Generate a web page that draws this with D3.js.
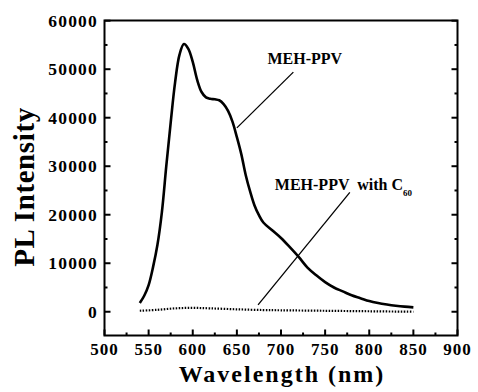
<!DOCTYPE html>
<html>
<head>
<meta charset="utf-8">
<script src="https://cdn.jsdelivr.net/npm/d3@7"></script>
<style>
  body { margin: 0; background: #fff; }
</style>
</head>
<body>
<svg id="chart" width="478" height="392"></svg>
<script>
// MEH-PPV photoluminescence
const wavePPV = [540, 545, 550, 555, 560, 565, 570, 575, 580, 585, 590, 595, 600, 605, 610, 615, 620, 625, 630, 635, 640, 645, 650, 655, 660, 665, 670, 675, 680, 690, 700, 710, 720, 730, 740, 750, 760, 770, 780, 790, 800, 810, 820, 830, 840, 850];
const intPPV  = [1800, 3300, 5500, 9200, 13800, 20500, 30000, 39000, 47300, 53000, 55200, 54200, 51500, 47800, 45300, 44200, 43900, 43800, 43600, 42800, 41400, 39200, 36000, 32500, 28200, 24800, 21900, 19900, 18400, 16800, 15200, 13300, 11300, 9100, 7500, 6100, 5000, 4200, 3400, 2800, 2200, 1800, 1500, 1250, 1050, 900];

// MEH-PPV with C60
const waveC60 = [540, 560, 580, 600, 620, 650, 680, 700, 750, 800, 850];
const intC60  = [200, 400, 700, 800, 700, 500, 350, 300, 200, 100, 0];

const xTicks = [500, 550, 600, 650, 700, 750, 800, 850, 900];
const yTicks = [0, 10000, 20000, 30000, 40000, 50000, 60000];

const FONT = "Liberation Serif, Times New Roman, serif";
const svg = d3.select("#chart");
const mLeft = 104.5, mRight = 457.5, mTop = 20.5, mBottom = 335.5;

const x = d3.scaleLinear().domain([500, 900]).range([mLeft, mRight]);
const y = d3.scaleLinear().domain([-5000, 60000]).range([336, 20.7]);

function label(sel) {
  return sel.attr("font-family", FONT).attr("font-weight", "bold").attr("fill", "#000");
}

// ticks (inward), major + minor
const xMinor = d3.range(525, 900, 50);
const yMinor = d3.range(5000, 60000, 10000);
const g = svg.append("g");

g.append("g").selectAll("line").data(xTicks).join("line")
  .attr("x1", d => x(d)).attr("x2", d => x(d))
  .attr("y1", mBottom).attr("y2", mBottom - 6)
  .attr("stroke", "#000").attr("stroke-width", 2);
g.append("g").selectAll("line").data(xMinor).join("line")
  .attr("x1", d => x(d)).attr("x2", d => x(d))
  .attr("y1", mBottom).attr("y2", mBottom - 3)
  .attr("stroke", "#000").attr("stroke-width", 2);

[mLeft, mRight].forEach((px, i) => {
  const dir = i === 0 ? 1 : -1;
  g.append("g").selectAll("line").data(yTicks).join("line")
    .attr("x1", px).attr("x2", px + dir * 6)
    .attr("y1", d => y(d)).attr("y2", d => y(d))
    .attr("stroke", "#000").attr("stroke-width", 2);
  g.append("g").selectAll("line").data(yMinor).join("line")
    .attr("x1", px).attr("x2", px + dir * 3)
    .attr("y1", d => y(d)).attr("y2", d => y(d))
    .attr("stroke", "#000").attr("stroke-width", 2);
});

// frame
svg.append("rect")
  .attr("x", mLeft).attr("y", mTop)
  .attr("width", mRight - mLeft).attr("height", mBottom - mTop)
  .attr("fill", "none").attr("stroke", "#000").attr("stroke-width", 2);

// tick labels
svg.append("g").selectAll("text").data(xTicks).join("text")
  .call(label)
  .attr("x", d => x(d)).attr("y", 355)
  .attr("text-anchor", "middle")
  .attr("font-size", 17).attr("letter-spacing", 1)
  .text(d => d);

svg.append("g").selectAll("text").data(yTicks).join("text")
  .call(label)
  .attr("x", 98).attr("y", d => y(d) + 6)
  .attr("text-anchor", "end")
  .attr("font-size", 17.5).attr("letter-spacing", 1.2)
  .text(d => d);

// axis titles
svg.append("text").call(label)
  .attr("x", 282).attr("y", 382)
  .attr("text-anchor", "middle")
  .attr("font-size", 24).attr("letter-spacing", 2)
  .text("Wavelength (nm)");

svg.append("text").call(label)
  .attr("transform", "translate(34,187) rotate(-90)")
  .attr("text-anchor", "middle")
  .attr("font-size", 29).attr("letter-spacing", 0.6)
  .text("PL Intensity");

// curves
const line = d3.line().x(d => x(d[0])).y(d => y(d[1])).curve(d3.curveCatmullRom.alpha(0.5));

svg.append("path")
  .datum(d3.zip(wavePPV, intPPV))
  .attr("d", line)
  .attr("fill", "none").attr("stroke", "#000").attr("stroke-width", 2.6);

svg.append("path")
  .datum(d3.zip(waveC60, intC60))
  .attr("d", line)
  .attr("fill", "none").attr("stroke", "#000").attr("stroke-width", 2.2)
  .attr("stroke-dasharray", "1.5,1.5");

// annotations
svg.append("line")
  .attr("x1", x(714)).attr("y1", y(49400))
  .attr("x2", x(650)).attr("y2", y(37900))
  .attr("stroke", "#000").attr("stroke-width", 1.3);
svg.append("text").call(label)
  .attr("x", x(727)).attr("y", y(51000))
  .attr("text-anchor", "middle")
  .attr("font-size", 16)
  .text("MEH-PPV");

svg.append("line")
  .attr("x1", x(778)).attr("y1", y(24600))
  .attr("x2", x(674)).attr("y2", y(1400))
  .attr("stroke", "#000").attr("stroke-width", 1.3);
const t2 = svg.append("text").call(label)
  .attr("x", x(693)).attr("y", y(25100))
  .attr("font-size", 16)
  .style("white-space", "pre");
t2.append("tspan").text("MEH-PPV  with C");
t2.append("tspan").attr("dy", 6).attr("font-size", 9).text("60");
</script>
</body>
</html>
